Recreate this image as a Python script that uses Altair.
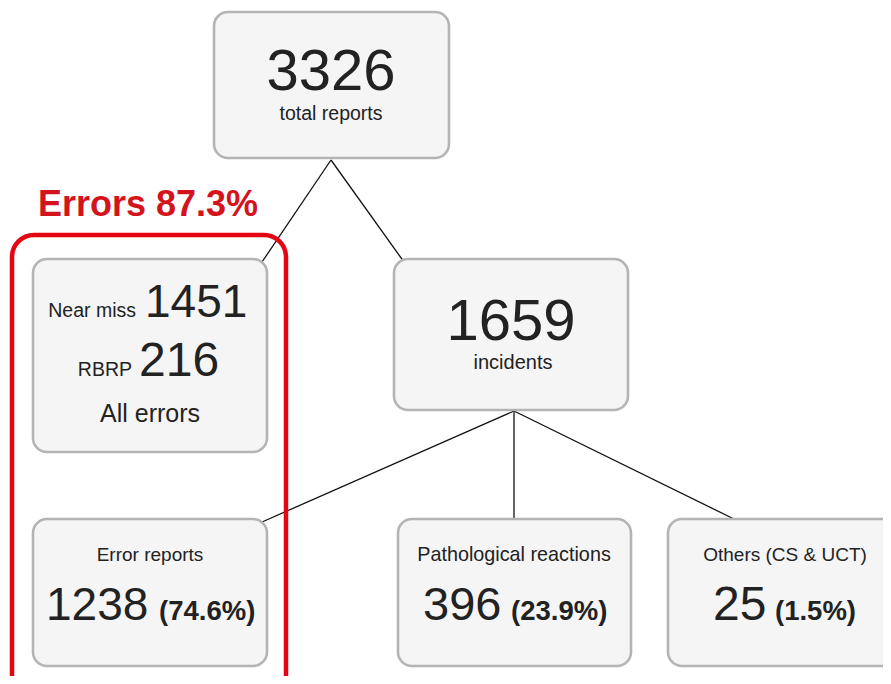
import altair as alt
import pandas as pd

# ---------------- values ----------------
total_reports = 3326
incidents = 1659
near_miss = 1451
rbrp = 216
error_reports = 1238
pathological = 396
others = 25
errors_share = "87.3%"
incident_shares = ["74.6%", "23.9%", "1.5%"]
incident_labels = ["Error reports", "Pathological reactions", "Others (CS & UCT)"]
incident_counts = [error_reports, pathological, others]

# ---------------- layout (screen-pixel coordinates) ----------------
FONT = "Liberation Sans"
INK = "#222222"
RED = "#d3141c"

boxes = pd.DataFrame({
    "x":  [214, 33, 394, 33, 398, 668],
    "x2": [449, 267, 628, 267, 631, 904],
    "y":  [12, 259, 259, 519, 519, 519],
    "y2": [158, 452, 410, 666, 666, 666],
})
edges = pd.DataFrame({
    "x":  [331, 331, 514, 514, 514],
    "y":  [160, 160, 411, 411, 411],
    "x2": [262, 404, 262, 514, 736],
    "y2": [262, 262, 522, 520, 520],
})
red_box = pd.DataFrame({"x": [12], "x2": [286], "y": [235], "y2": [700]})

X = alt.Scale(domain=[8, 883], nice=False, zero=False)
Y = alt.Scale(domain=[8, 676], nice=False, zero=False, reverse=True)

texts = [
    # text, x, y(baseline), size, align, weight, color
    (str(total_reports), 331, 90, 58, "center", "normal", INK),
    ("total reports", 331, 120, 19.5, "center", "normal", INK),
    ("Errors " + errors_share, 148, 216, 36, "center", "bold", RED),
    ("Near miss", 136, 317, 19.5, "right", "normal", INK),
    (str(near_miss), 145, 317, 46, "left", "normal", INK),
    ("RBRP", 132, 376, 19.5, "right", "normal", INK),
    (str(rbrp), 139, 376, 48, "left", "normal", INK),
    ("All errors", 150, 422, 25, "center", "normal", INK),
    (str(incidents), 511, 340, 58, "center", "normal", INK),
    ("incidents", 513, 369, 20, "center", "normal", INK),
    (incident_labels[0], 150, 561, 19, "center", "normal", INK),
    (incident_labels[1], 514, 561, 19.8, "center", "normal", INK),
    (incident_labels[2], 785, 561, 19, "center", "normal", INK),
    (str(incident_counts[0]), 46, 620, 46, "left", "normal", INK),
    (str(incident_counts[1]), 423, 620, 47, "left", "normal", INK),
    (str(incident_counts[2]), 713, 620, 48, "left", "normal", INK),
    ("(" + incident_shares[0] + ")", 159, 620, 27.5, "left", "bold", INK),
    ("(" + incident_shares[1] + ")", 511, 620, 27.5, "left", "bold", INK),
    ("(" + incident_shares[2] + ")", 775, 620, 27.5, "left", "bold", INK),
]
tdf = pd.DataFrame(texts, columns=["text", "x", "y", "size", "align", "weight", "color"])

base_x = alt.X("x:Q", scale=X, axis=None)
base_y = alt.Y("y:Q", scale=Y, axis=None)

rules = alt.Chart(edges).mark_rule(color="#111111", strokeWidth=1.3).encode(
    x=base_x, y=base_y, x2="x2:Q", y2="y2:Q"
)
rects = alt.Chart(boxes).mark_rect(
    fill="#f5f5f5", stroke="#b4b4b4", strokeWidth=2.6, cornerRadius=14
).encode(x=base_x, y=base_y, x2="x2:Q", y2="y2:Q")
red = alt.Chart(red_box).mark_rect(
    fillOpacity=0, stroke="#e30613", strokeWidth=4.5, cornerRadius=22, clip=True
).encode(x=base_x, y=base_y, x2="x2:Q", y2="y2:Q")

layers = [rules, rects, red]
for (align, weight), grp in tdf.groupby(["align", "weight"]):
    layers.append(
        alt.Chart(grp).mark_text(
            font=FONT, align=align, fontWeight=weight, baseline="alphabetic"
        ).encode(
            x=base_x, y=base_y, text="text:N",
            size=alt.Size("size:Q", scale=None, legend=None),
            color=alt.Color("color:N", scale=None, legend=None),
        )
    )

chart = alt.layer(*layers).properties(
    width=875, height=668, padding=0, autosize=alt.AutoSizeParams(type="none"),
    background="white",
).configure_view(stroke=None)

chart.save("out.html", embed_options={"renderer": "svg", "actions": False})
